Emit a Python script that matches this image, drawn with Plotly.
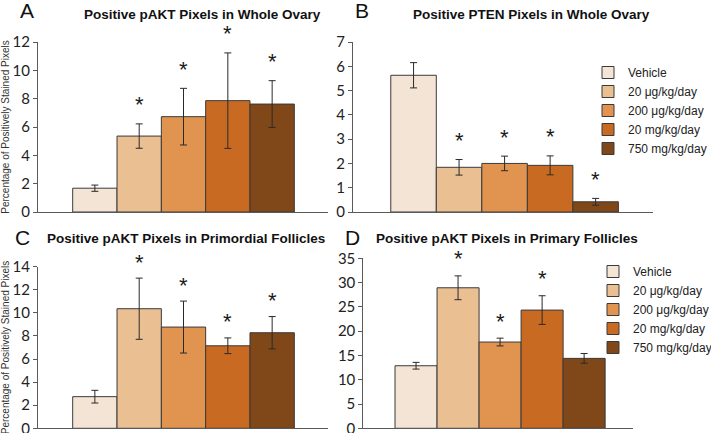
import plotly.graph_objects as go

W, H = 711, 433

groups = ["Vehicle", "20 μg/kg/day", "200 μg/kg/day", "20 mg/kg/day", "750 mg/kg/day"]
colors = ["#F4E4D6", "#EABF92", "#E09450", "#C96A22", "#804718"]

titles = ["Positive pAKT Pixels in Whole Ovary",
          "Positive PTEN Pixels in Whole Ovary",
          "Positive pAKT Pixels in Primordial Follicles",
          "Positive pAKT Pixels in Primary Follicles"]
letters = ["A", "B", "C", "D"]

vals_A = [1.68, 5.36, 6.73, 7.86, 7.62]
err_A = [0.22, 0.86, 2.0, 3.37, 1.65]
sig_A = [False, True, True, True, True]

vals_B = [5.63, 1.84, 2.0, 1.92, 0.42]
err_B = [0.52, 0.32, 0.3, 0.39, 0.14]
sig_B = [False, True, True, True, True]

vals_C = [2.74, 10.36, 8.77, 7.15, 8.28]
err_C = [0.55, 2.65, 2.25, 0.68, 1.4]
sig_C = [False, True, True, True, True]

vals_D = [12.88, 28.93, 17.76, 24.34, 14.4]
err_D = [0.69, 2.45, 0.8, 2.95, 1.0]
sig_D = [False, True, True, True, False]

yranges = [[0, 12], [0, 7], [0, 14], [0, 35]]
ydtick = [2, 1, 2, 5]

def px(x0, x1):
    return [x0 / W, x1 / W]

def py(ytop, ybot):
    return [1 - ybot / H, 1 - ytop / H]

panels = [
    dict(vals=vals_A, err=err_A, sig=sig_A, xd=px(38, 328), yd=py(42, 212), xr=[-1.283, 5.26], ytitle=True, legend=None, shift=19),
    dict(vals=vals_B, err=err_B, sig=sig_B, xd=px(353, 653), yd=py(42, 212), xr=[-1.33, 5.26], ytitle=False, legend="legend", shift=19),
    dict(vals=vals_C, err=err_C, sig=sig_C, xd=px(38, 328), yd=py(266.7, 428.3), xr=[-1.283, 5.26], ytitle=True, legend=None, shift=16),
    dict(vals=vals_D, err=err_D, sig=sig_D, xd=px(363.3, 633.3), yd=py(258.3, 428.3), xr=[-1.255, 5.17], ytitle=False, legend="legend2", shift=17),
]

fig = go.Figure()
annotations = []
axis_color = "#5a5a5a"

for k, p in enumerate(panels):
    suffix = "" if k == 0 else str(k + 1)
    xa, ya = "x" + suffix, "y" + suffix
    for i, g in enumerate(groups):
        fig.add_trace(go.Bar(
            x=[i], y=[p["vals"][i]], name=g, width=1,
            marker=dict(color=colors[i], line=dict(color="#3a3a3a", width=1)),
            error_y=dict(type="data", array=[p["err"][i]], color="#2a2a2a", thickness=1, width=3.5),
            xaxis=xa, yaxis=ya,
            showlegend=p["legend"] is not None,
            legend=p["legend"] if p["legend"] else "legend",
        ))
        if p["sig"][i]:
            annotations.append(dict(
                x=i, y=p["vals"][i] + p["err"][i], xref=xa, yref=ya,
                text="*", showarrow=False, yanchor="middle", yshift=p["shift"],
                font=dict(family="Liberation Sans, Arial", size=22, color="#1a1a1a"),
            ))
    fig.layout["xaxis" + suffix] = dict(
        domain=p["xd"], range=p["xr"], anchor=ya, showline=True, linecolor=axis_color,
        linewidth=1, showticklabels=False, ticks="", showgrid=False, zeroline=False, fixedrange=True)
    fig.layout["yaxis" + suffix] = dict(
        domain=p["yd"], range=yranges[k], dtick=ydtick[k], anchor=xa, showline=True,
        linecolor=axis_color, linewidth=1, ticks="outside", ticklen=4, tickcolor=axis_color,
        showgrid=False, zeroline=False, ticklabeloverflow="allow",
        tickfont=dict(family="Lato, Carlito, Liberation Sans", size=15, color="#222"),
        title=dict(text="Percentage of Positively Stained Pixels" if p["ytitle"] else "",
                   font=dict(family="Liberation Sans, Arial", size=10, color="#333"), standoff=6),
    )

title_pos = [(202, 15), (531, 15), (186, 238), (507, 238)]
letter_pos = [(27, 11), (362, 11), (22, 237), (352, 237)]
for k in range(4):
    tx, ty = title_pos[k]
    annotations.append(dict(x=tx / W, y=1 - ty / H, xref="paper", yref="paper", text="<b>" + titles[k] + "</b>",
                            showarrow=False, xanchor="center", yanchor="middle",
                            font=dict(family="Liberation Sans, Arial", size=13.5, color="#111")))
    lx, ly = letter_pos[k]
    annotations.append(dict(x=lx / W, y=1 - ly / H, xref="paper", yref="paper", text=letters[k],
                            showarrow=False, xanchor="center", yanchor="middle",
                            font=dict(family="Liberation Sans, Arial", size=21, color="#111")))

legend_font = dict(family="Liberation Sans, Arial", size=12, color="#222")
fig.update_layout(
    width=W, height=H, margin=dict(l=0, r=0, t=0, b=0, autoexpand=False),
    paper_bgcolor="white", plot_bgcolor="white",
    barmode="overlay", showlegend=True,
    annotations=annotations,
    legend=dict(x=588 / W, y=1 - 58 / H, xanchor="left", yanchor="top", font=legend_font,
                bgcolor="rgba(0,0,0,0)", tracegroupgap=0, itemwidth=30),
    legend2=dict(x=593 / W, y=1 - 257 / H, xanchor="left", yanchor="top", font=legend_font,
                 bgcolor="rgba(0,0,0,0)", tracegroupgap=0, itemwidth=30),
)

fig.write_html("out.html", config={"displayModeBar": False},
               post_script="document.body.style.margin='0';")
